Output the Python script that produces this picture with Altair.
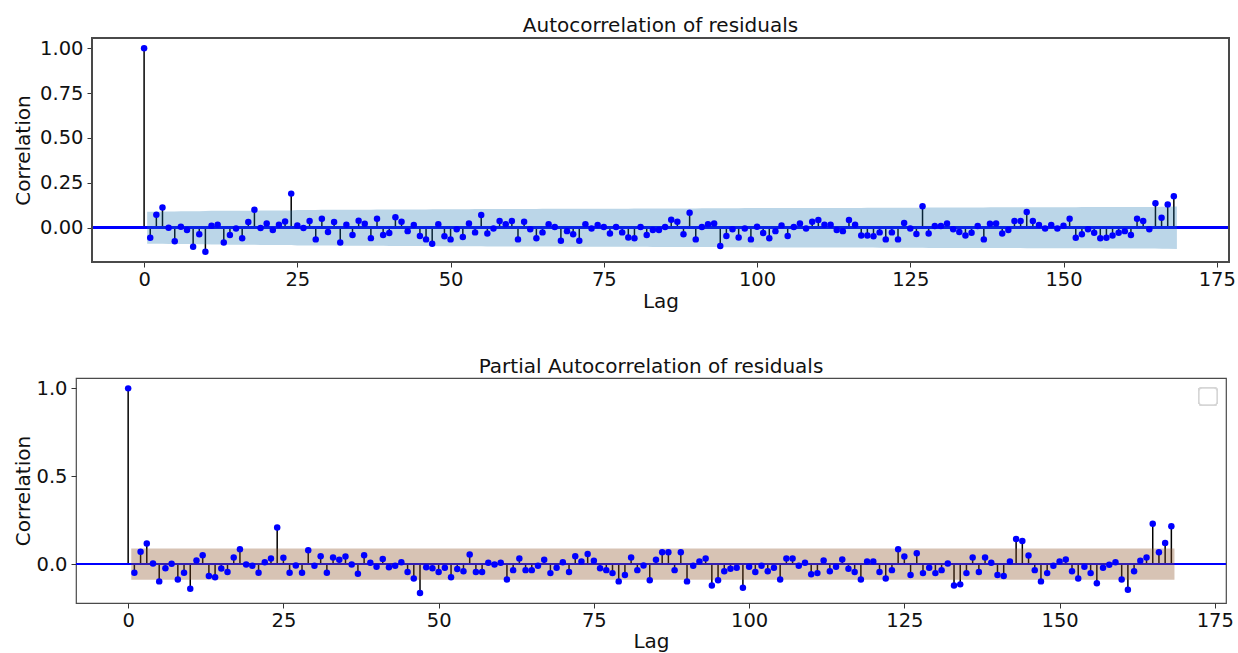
import altair as alt
import pandas as pd
import numpy as np

# Autocorrelation of the model residuals, lags 0..168
acf_values = [
    1.0, -0.056, 0.072, 0.113, 0.0, -0.076, 0.006, -0.013, -0.106, -0.037,
    -0.134, 0.011, 0.017, -0.082, -0.041, -0.004, -0.059, 0.032, 0.100, -0.002,
    0.024, -0.013, 0.017, 0.035, 0.190, 0.013, -0.002, 0.037, -0.065, 0.050,
    -0.024, 0.032, -0.082, 0.017, -0.041, 0.039, 0.022, -0.058, 0.050, -0.041,
    -0.030, 0.058, 0.033,
    -0.019, 0.015, -0.046, -0.065, -0.089, 0.019, -0.048, -0.065, -0.009, -0.052,
    0.024, -0.026, 0.071, -0.032, -0.004, 0.037, 0.020, 0.037, -0.065, 0.033,
    -0.009, -0.059, -0.026, 0.020, 0.004, -0.072, -0.019, -0.037, -0.072, 0.020,
    -0.004, 0.015, 0.004, -0.032, 0.004, -0.026, -0.054, -0.059, 0.004, -0.041,
    -0.013, -0.013, 0.004,
    0.045, 0.033, -0.037, 0.084, -0.065, 0.004, 0.019, 0.024, -0.102, -0.046,
    -0.009, -0.054, -0.004, -0.065, 0.006, -0.030, -0.059, -0.019, 0.013, -0.046,
    0.004, 0.024, -0.004, 0.033, 0.043, 0.017, 0.017, -0.013, -0.019, 0.043,
    0.017, -0.043, -0.043, -0.048, -0.026, -0.065, -0.026, -0.065, 0.026, -0.004,
    -0.035, 0.119, -0.032,
    0.009, 0.009, 0.024, -0.009, -0.024, -0.043, -0.028, 0.009, -0.065, 0.022,
    0.024, -0.032, -0.013, 0.037, 0.037, 0.087, 0.037, 0.015, -0.004, 0.015,
    -0.004, 0.011, 0.050, -0.056, -0.037, -0.009, -0.028, -0.059, -0.056, -0.043,
    -0.028, -0.019, -0.041, 0.050, 0.037, -0.009, 0.136, 0.056, 0.130, 0.175,
]

# Partial autocorrelation of the model residuals, lags 0..168
pacf_values = [
    1.0, -0.049, 0.070, 0.117, 0.004, -0.098, -0.023, 0.002, -0.087, -0.049,
    -0.140, 0.021, 0.051, -0.068, -0.075, -0.025, -0.045, 0.038, 0.085, -0.002,
    -0.009, -0.049, 0.011, 0.032, 0.208, 0.036, -0.049, -0.008, -0.049, 0.079,
    -0.009, 0.045, -0.049, 0.038, 0.025, 0.043, -0.002, -0.055, 0.051, 0.008,
    -0.015, 0.030, -0.017,
    -0.009, 0.011, -0.045, -0.081, -0.164, -0.017, -0.023, -0.045, -0.021, -0.074,
    -0.028, -0.040, 0.055, -0.045, -0.045, 0.008, -0.002, 0.008, -0.087, -0.034,
    0.032, -0.034, -0.034, -0.009, 0.025, -0.051, -0.021, 0.011, -0.045, 0.045,
    0.015, 0.058, 0.019, -0.023, -0.034, -0.051, -0.098, -0.062, 0.038, -0.034,
    -0.008, -0.091, 0.025, 0.068,
    0.068, -0.034, 0.068, -0.098, -0.009, 0.015, 0.032, -0.121, -0.091, -0.040,
    -0.026, -0.021, -0.134, -0.015, -0.045, -0.009, -0.040, -0.021, -0.087, 0.032,
    0.032, -0.009, 0.008, -0.057, -0.051, 0.021, -0.040, -0.015, 0.026, -0.026,
    -0.045, -0.087, 0.015, 0.015, -0.045, -0.081, -0.034, 0.085, 0.043, -0.062,
    0.062, -0.051, -0.021,
    -0.051, -0.034, 0.004, -0.121, -0.115, -0.051, 0.038, -0.045, 0.038, 0.008,
    -0.062, -0.068, 0.015, 0.143, 0.132, 0.049, -0.034, -0.098, -0.051, -0.009,
    0.015, 0.026, -0.040, -0.081, -0.015, -0.051, -0.109, -0.021, -0.004, 0.011,
    -0.087, -0.145, -0.040, 0.019, 0.038, 0.230, 0.068, 0.121, 0.215,
]

n_obs = 485          # number of residuals behind the estimates
z_crit = 1.96        # 95% interval
x_ticks = [0, 25, 50, 75, 100, 125, 150, 175]

lags = np.arange(len(acf_values))
acf_df = pd.DataFrame({"lag": lags, "value": acf_values})
pacf_df = pd.DataFrame({"lag": lags, "value": pacf_values})

# Bartlett band for the ACF (grows with the sum of squared earlier autocorrelations)
r = np.array(acf_values)
var_acf = np.ones(len(r)) / n_obs
var_acf[2:] = (1 + 2 * np.cumsum(r[1:-1] ** 2)) / n_obs
half_acf = z_crit * np.sqrt(var_acf)
band_x = lags[1:].astype(float)
band_x[0] -= 0.5
band_x[-1] += 0.5
acf_band = pd.DataFrame({"x": band_x, "lo": -half_acf[1:], "hi": half_acf[1:]})

# Constant band for the PACF
half_pacf = z_crit / np.sqrt(n_obs)
pacf_band = pd.DataFrame({"x": band_x, "lo": -half_pacf, "hi": half_pacf})

FONT = "DejaVu Sans"
BLUE = "#0000FF"
FRAME = "#4a4a4a"


def corr_panel(df, band, title, frame_x, x_left, y_dom, y_ticks, y_fmt, y_extent,
               y_tpad, y_offset, band_color, band_opacity, width, height,
               title_dx=0, lag_title_x=None, lag_tpad=3, legend_box=False,
               own_frame=False):
    x_scale = alt.Scale(domain=[x_left, frame_x[1]], nice=False, zero=False)
    y_scale = alt.Scale(domain=y_dom, nice=False, zero=False)
    x_axis_kw = dict(values=x_ticks, title="Lag", grid=False, domain=False,
                     tickSize=5, tickColor="#333333", labelPadding=3,
                     labelFontSize=19.5, titleFontSize=20, titlePadding=lag_tpad,
                     labelColor="#111111", titleColor="#111111",
                     titleFontWeight="normal", labelFont=FONT, titleFont=FONT)
    if lag_title_x is not None:
        x_axis_kw["titleX"] = lag_title_x
    x_axis = alt.Axis(**x_axis_kw)
    y_axis = alt.Axis(values=y_ticks, format=y_fmt, title="Correlation", grid=False,
                      domain=False, tickSize=5, tickColor="#333333", labelPadding=4,
                      labelFontSize=19.5, titleFontSize=20, titlePadding=y_tpad,
                      minExtent=y_extent, maxExtent=y_extent, offset=y_offset,
                      labelColor="#111111", titleColor="#111111",
                      titleFontWeight="normal", labelFont=FONT, titleFont=FONT)

    base = alt.Chart(df)
    stems = base.mark_rule(color="black", strokeWidth=1.5).encode(
        x=alt.X("lag:Q", scale=x_scale, axis=x_axis),
        y=alt.Y("value:Q", scale=y_scale, axis=y_axis),
        y2=alt.datum(0),
    )
    zero_line = base.mark_rule(color=BLUE, strokeWidth=1.8).encode(
        x=alt.datum(frame_x[0]), x2=alt.datum(frame_x[1]), y=alt.datum(0)
    )
    shade = alt.Chart(band).mark_area(color=band_color, opacity=band_opacity).encode(
        x="x:Q", y="lo:Q", y2="hi:Q"
    )
    dots = base.mark_circle(color=BLUE, size=42, opacity=1).encode(
        x="lag:Q", y="value:Q"
    )
    layers = [stems, zero_line, shade, dots]
    if own_frame:
        layers.append(
            base.mark_rect(filled=False, color=FRAME, strokeWidth=1.2).encode(
                x=alt.datum(frame_x[0]), x2=alt.datum(frame_x[1]),
                y=alt.datum(y_dom[0]), y2=alt.datum(y_dom[1]),
            )
        )
    if legend_box:
        layers.append(
            base.mark_rect(fill="white", stroke="#d6d6d6", strokeWidth=1.3,
                           cornerRadius=3).encode(
                x=alt.value(width - 27), x2=alt.value(width - 9),
                y=alt.value(10), y2=alt.value(27),
            )
        )
    props = dict(
        width=width, height=height,
        title=alt.TitleParams(title, fontSize=20, font=FONT, fontWeight="normal",
                              color="#111111", anchor="middle", frame="group",
                              offset=1, dx=title_dx),
    )
    if own_frame:
        props["view"] = alt.ViewBackground(stroke="transparent")
    return alt.layer(*layers).properties(**props)


# Upper panel: its frame starts 16px right of the shared left edge of the grid,
# so the scale is widened on the left and the y axis is pulled inwards.
top_frame = [-8.5, 177.0]
top_px_per_lag = 1137 / (top_frame[1] - top_frame[0])
top_shift = 16
top = corr_panel(acf_df, acf_band, "Autocorrelation of residuals",
                 top_frame, top_frame[0] - top_shift / top_px_per_lag,
                 [-0.191, 1.057], [0, 0.25, 0.5, 0.75, 1.0], ".2f",
                 52, 7, -top_shift, "#1f77b4", 0.3, 1137 + top_shift, 224,
                 title_dx=top_shift / 2, lag_title_x=top_shift + 1137 / 2,
                 own_frame=True)

bottom = corr_panel(pacf_df, pacf_band, "Partial Autocorrelation of residuals",
                    [-8.4, 176.8], -8.4, [-0.221, 1.059], [0, 0.5, 1.0], ".1f",
                    40, 3, 0, "#8D5429", 0.35, 1150, 225, lag_tpad=2,
                    legend_box=True)

chart = alt.concat(top, bottom, columns=1, spacing=43).properties(
    padding={"left": 12, "top": 15, "right": 0, "bottom": 0}
).configure(
    font=FONT, background="white"
).configure_view(
    stroke=FRAME, strokeWidth=1.2
)

chart.save("out.html", embed_options={"renderer": "svg", "actions": False})
